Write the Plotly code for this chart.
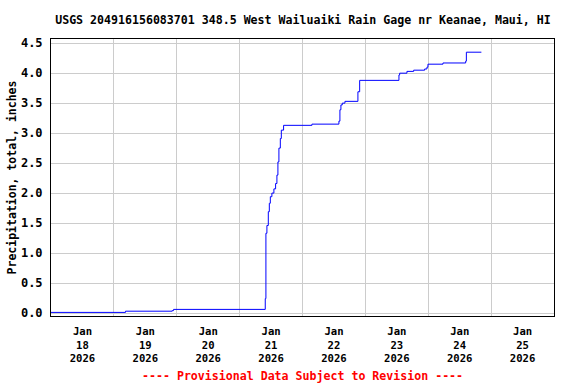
import plotly.graph_objects as go

# Cumulative precipitation readings (time, inches)
times = [
    "2026-01-18 00:00", "2026-01-19 04:26", "2026-01-19 22:16", "2026-01-19 22:47",
    "2026-01-21 09:47", "2026-01-21 10:02", "2026-01-21 10:25", "2026-01-21 10:57",
    "2026-01-21 11:20", "2026-01-21 11:43", "2026-01-21 12:19", "2026-01-21 13:05",
    "2026-01-21 13:44", "2026-01-21 14:14", "2026-01-21 14:37", "2026-01-21 15:00",
    "2026-01-21 15:32", "2026-01-21 15:55", "2026-01-21 16:47", "2026-01-22 03:36",
    "2026-01-22 13:54", "2026-01-22 14:17", "2026-01-22 14:40", "2026-01-22 15:11",
    "2026-01-22 16:12", "2026-01-22 21:09", "2026-01-22 21:49", "2026-01-23 12:49",
    "2026-01-23 13:05", "2026-01-23 15:52", "2026-01-23 18:26", "2026-01-23 22:38",
    "2026-01-23 23:30", "2026-01-23 23:53", "2026-01-24 05:37", "2026-01-24 14:17",
    "2026-01-24 14:33", "2026-01-24 20:17",
]
precip = [
    0.01, 0.03, 0.04, 0.06,
    0.24, 1.33, 1.46, 1.69,
    1.83, 1.94, 2.00, 2.07,
    2.16, 2.30, 2.52, 2.75,
    2.91, 3.05, 3.13, 3.15,
    3.20, 3.39, 3.47, 3.50,
    3.53, 3.69, 3.88, 3.97,
    4.00, 4.03, 4.05, 4.07,
    4.10, 4.15, 4.17, 4.20,
    4.35, 4.35,
]

tick_vals = ["2026-01-%02d 12:00" % d for d in range(18, 26)]
tick_text = ["Jan<br>%d<br>2026" % d for d in range(18, 26)]
y_ticks = [0.0, 0.5, 1.0, 1.5, 2.0, 2.5, 3.0, 3.5, 4.0, 4.5]

title_text = "USGS 204916156083701 348.5 West Wailuaiki Rain Gage nr Keanae, Maui, HI"
y_title = "Precipitation, total, inches"
footer = "---- Provisional Data Subject to Revision ----"

FONT = "DejaVu Sans Mono"

fig = go.Figure()
fig.add_trace(go.Scatter(
    x=times, y=precip, mode="lines", line_shape="hv",
    line=dict(color="#0000FF", width=1), showlegend=False, hoverinfo="skip",
))

fig.update_layout(
    width=576, height=384,
    margin=dict(l=51, r=22, t=39, b=68, autoexpand=False),
    paper_bgcolor="white", plot_bgcolor="white",
    font=dict(family=FONT, color="black"),
    title=dict(text="<b>%s</b>" % title_text, x=0.526, xanchor="center",
               y=1 - 20 / 384, yanchor="middle",
               font=dict(family=FONT, size=11.6, color="black")),
    annotations=[dict(text="<b>%s</b>" % footer, xref="paper", yref="paper",
                      x=0.5, y=-(376 - 316) / 277, xanchor="center", yanchor="middle",
                      showarrow=False, font=dict(family=FONT, size=11.6, color="#FF0000"))],
)

fig.update_xaxes(
    type="date", automargin=False,
    range=["2026-01-18 00:00", "2026-01-26 00:00"],
    tickmode="array", tickvals=tick_vals, ticktext=["<b>%s</b>" % t for t in tick_text],
    tickfont=dict(family=FONT, size=10.6, color="black"),
    ticks="", showgrid=False, zeroline=False,
    minor=dict(tick0="2026-01-18", dtick=86400000, showgrid=True, gridcolor="#CCCCCC", gridwidth=1, ticks=""),
    showline=True, mirror=True, linecolor="black", linewidth=1,
    ticklabelstandoff=5,
)
fig.update_yaxes(
    automargin=False,
    range=[-0.05, 4.57],
    tickmode="array", tickvals=y_ticks, ticktext=["<b>%.1f</b>" % v for v in y_ticks],
    tickfont=dict(family=FONT, size=12, color="black"),
    ticks="", showgrid=True, gridcolor="#CCCCCC", gridwidth=1, zeroline=False,
    showline=True, mirror=True, linecolor="black", linewidth=1,
    ticklabelstandoff=5,
    title=dict(text="<b>%s</b>" % y_title, font=dict(family=FONT, size=11.5, color="black"), standoff=1),
)

fig.write_html("out.html", config={"displayModeBar": False},
               post_script="document.body.style.margin='0';document.body.style.padding='0';")
